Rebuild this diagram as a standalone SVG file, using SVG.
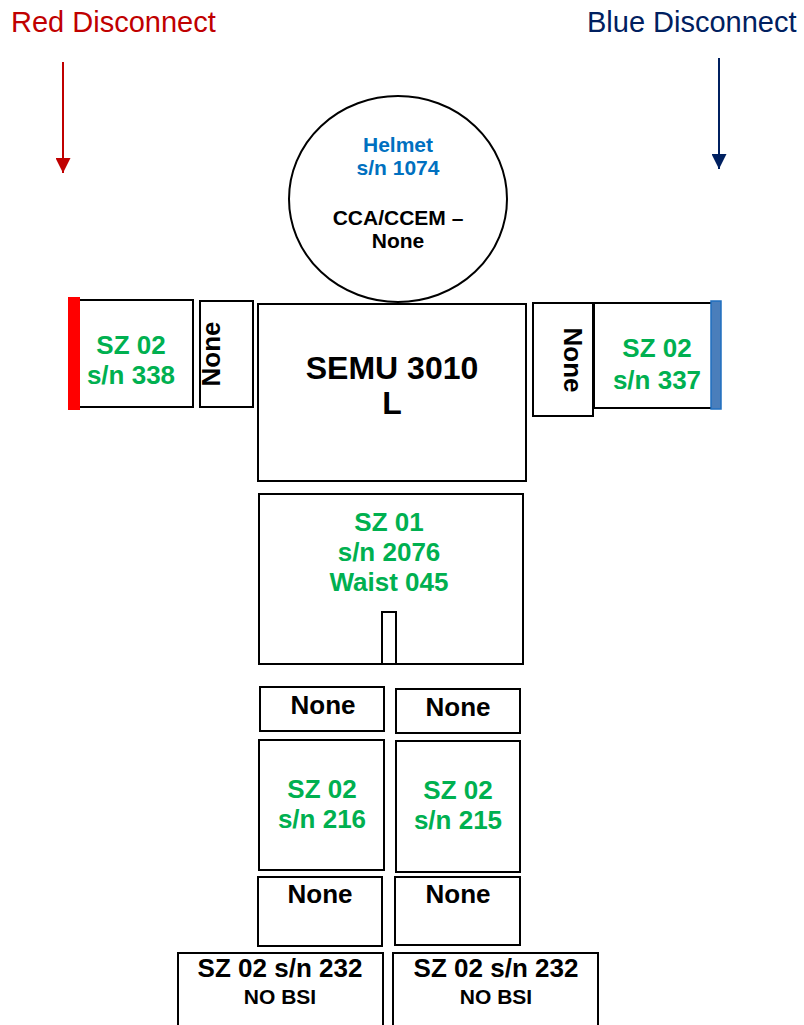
<svg xmlns="http://www.w3.org/2000/svg" width="804" height="1025" viewBox="0 0 804 1025">
<style>
.box{fill:#fff;stroke:#000;stroke-width:2}
.t{font-family:"Liberation Sans",Arial,sans-serif;font-weight:bold;text-anchor:middle}
.g{fill:#00b050;font-size:26px}
.k{fill:#000;font-size:26px}
.h{font-size:21px}
.lbl{font-family:"Liberation Sans",Arial,sans-serif;font-size:29px}
</style>
<defs>
<marker id="arR" viewBox="0 0 10 10" refX="10" refY="5" markerWidth="15" markerHeight="15" markerUnits="userSpaceOnUse" orient="auto"><path d="M0,0L10,5L0,10z" fill="#c00000"/></marker>
<marker id="arB" viewBox="0 0 10 10" refX="10" refY="5" markerWidth="15" markerHeight="15" markerUnits="userSpaceOnUse" orient="auto"><path d="M0,0L10,5L0,10z" fill="#002060"/></marker>
</defs>
<g id="labels">
<text class="lbl" x="11" y="32" fill="#c00000">Red Disconnect</text>
<text class="lbl" x="587" y="32" fill="#002060">Blue Disconnect</text>
</g>
<g id="connectors">
<line x1="63" y1="62" x2="63" y2="173" stroke="#c00000" stroke-width="2" marker-end="url(#arR)"/>
<line x1="719" y1="58" x2="719" y2="169" stroke="#002060" stroke-width="2" marker-end="url(#arB)"/>
</g>
<g id="helmet">
<ellipse cx="398" cy="199" rx="109" ry="103" fill="#fff" stroke="#000" stroke-width="2"/>
<text class="t h" x="398" y="152" fill="#0070c0">Helmet</text>
<text class="t h" x="398" y="175" fill="#0070c0">s/n 1074</text>
<text class="t h" x="398" y="225" fill="#000">CCA/CCEM –</text>
<text class="t h" x="398" y="248" fill="#000">None</text>
</g>
<g id="left-arm">
<rect class="box" x="69" y="300" width="124" height="107"/>
<rect x="68" y="297" width="12" height="113" fill="#ff0000"/>
<text class="t g" x="131" y="354">SZ 02</text>
<text class="t g" x="131" y="384">s/n 338</text>
</g>
<g id="left-none">
<rect class="box" x="200" y="301" width="53" height="106"/>
<text class="t k" transform="translate(220,354) rotate(-90)">None</text>
</g>
<g id="semu">
<rect class="box" x="258" y="304" width="268" height="177"/>
<text class="t" x="392" y="379" font-size="32">SEMU 3010</text>
<text class="t" x="392" y="414" font-size="32">L</text>
</g>
<g id="right-none">
<rect class="box" x="533" y="303" width="60" height="113"/>
<text class="t k" transform="translate(564,360) rotate(90)">None</text>
</g>
<g id="right-arm">
<rect class="box" x="594" y="303" width="122" height="105"/>
<rect x="711" y="301" width="10" height="108" fill="#4a7ebb" stroke="#1f6fc0" stroke-width="1.5"/>
<text class="t g" x="657" y="357">SZ 02</text>
<text class="t g" x="657" y="389">s/n 337</text>
</g>
<g id="sz01">
<rect class="box" x="259" y="494" width="264" height="170"/>
<text class="t g" x="389" y="531">SZ 01</text>
<text class="t g" x="389" y="561">s/n 2076</text>
<text class="t g" x="389" y="591">Waist 045</text>
<rect class="box" x="382" y="612" width="14" height="52"/>
</g>
<g id="none-l1">
<rect class="box" x="260" y="687" width="124" height="44"/>
<text class="t k" x="323" y="714">None</text>
</g>
<g id="none-r1">
<rect class="box" x="396" y="689" width="124" height="44"/>
<text class="t k" x="458" y="716">None</text>
</g>
<g id="sz02-216">
<rect class="box" x="259" y="740" width="125" height="130"/>
<text class="t g" x="322" y="798">SZ 02</text>
<text class="t g" x="322" y="828">s/n 216</text>
</g>
<g id="sz02-215">
<rect class="box" x="396" y="741" width="124" height="131"/>
<text class="t g" x="458" y="799">SZ 02</text>
<text class="t g" x="458" y="829">s/n 215</text>
</g>
<g id="none-l2">
<rect class="box" x="258" y="877" width="124" height="69"/>
<text class="t k" x="320" y="903">None</text>
</g>
<g id="none-r2">
<rect class="box" x="395" y="877" width="125" height="68"/>
<text class="t k" x="458" y="903">None</text>
</g>
<g id="boot-l">
<rect class="box" x="178" y="953" width="205" height="90"/>
<text class="t" x="280" y="977" font-size="26">SZ 02 s/n 232</text>
<text class="t" x="280" y="1004" font-size="21">NO BSI</text>
</g>
<g id="boot-r">
<rect class="box" x="393" y="953" width="205" height="90"/>
<text class="t" x="496" y="977" font-size="26">SZ 02 s/n 232</text>
<text class="t" x="496" y="1004" font-size="21">NO BSI</text>
</g>
</svg>
